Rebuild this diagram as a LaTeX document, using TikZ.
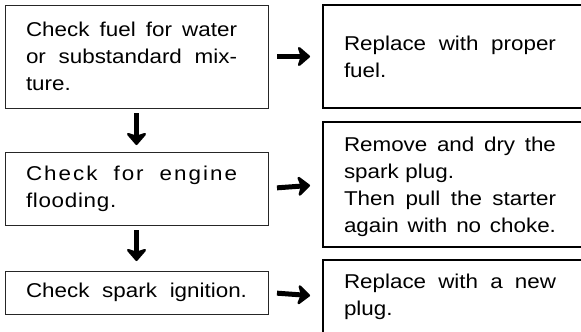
\documentclass[tikz,border=0pt]{standalone}
\usepackage{fontspec}
\setmainfont{Liberation Sans}[FakeStretch=1.12]
\usepackage{tikz}
\usetikzlibrary{arrows.meta}
\newcommand{\jline}[2][211pt]{\leavevmode\hbox to #1{\spaceskip=0.28em plus 1fil\xspaceskip=\spaceskip\relax #2}}
\begin{document}
\begin{tikzpicture}[x=1pt,y=-1pt,
checkbox/.style={draw=black!85,line width=0.9pt,outer sep=0pt,inner xsep=21pt,inner ysep=0pt,
  text width=221pt,align=left,anchor=north west,font=\fontsize{20}{27}\selectfont},
fixbox/.style={draw,line width=2.4pt,outer sep=0pt,inner xsep=21pt,inner ysep=0pt,
  text width=226pt,align=left,anchor=north west,font=\fontsize{20}{27}\selectfont},
arw/.style={line width=5pt,-{Stealth[length=14pt,width=24pt,inset=4pt,round]}}]
\useasboundingbox(0,0)rectangle(581,332);
% left column
\node[checkbox,minimum height=103pt](fuel)at(5,5){\jline{Check fuel for water}\\\jline{or substandard mix-}\\ture.};
\node[checkbox,minimum height=73pt](flood)at(5,152){\jline{\addfontfeatures{LetterSpace=10}Check for engine}\\{\addfontfeatures{LetterSpace=3.5}flooding.}};
\node[checkbox,minimum height=43pt](spark)at(5,271){\jline[221pt]{Check spark ignition.}};
% right column
\node[fixbox,minimum height=103pt](newfuel)at(323,5){\jline[212pt]{Replace with proper}\\fuel.};
\node[fixbox,minimum height=125pt](dry)at(323,122){\rule{0pt}{20pt}\jline[212pt]{Remove and dry the}\\spark plug.\\\jline[212pt]{Then pull the starter}\\\jline[212pt]{again with no choke.}};
\node[fixbox,minimum height=73pt](plug)at(323,260){\jline[212pt]{Replace with a new}\\plug.};
% arrows
\draw[arw,shorten <=5pt,shorten >=7pt](fuel.south)--(flood.north);
\draw[arw,shorten <=5pt,shorten >=10pt](flood.south)--(spark.north);
\draw[arw,shorten <=9pt,shorten >=13pt](fuel.east)--(newfuel.west);
\draw[arw,shorten <=9pt,shorten >=13pt](flood.east)--(dry.west);
\draw[arw,shorten <=9pt,shorten >=13pt](spark.east)--(plug.west);
\end{tikzpicture}
\end{document}
